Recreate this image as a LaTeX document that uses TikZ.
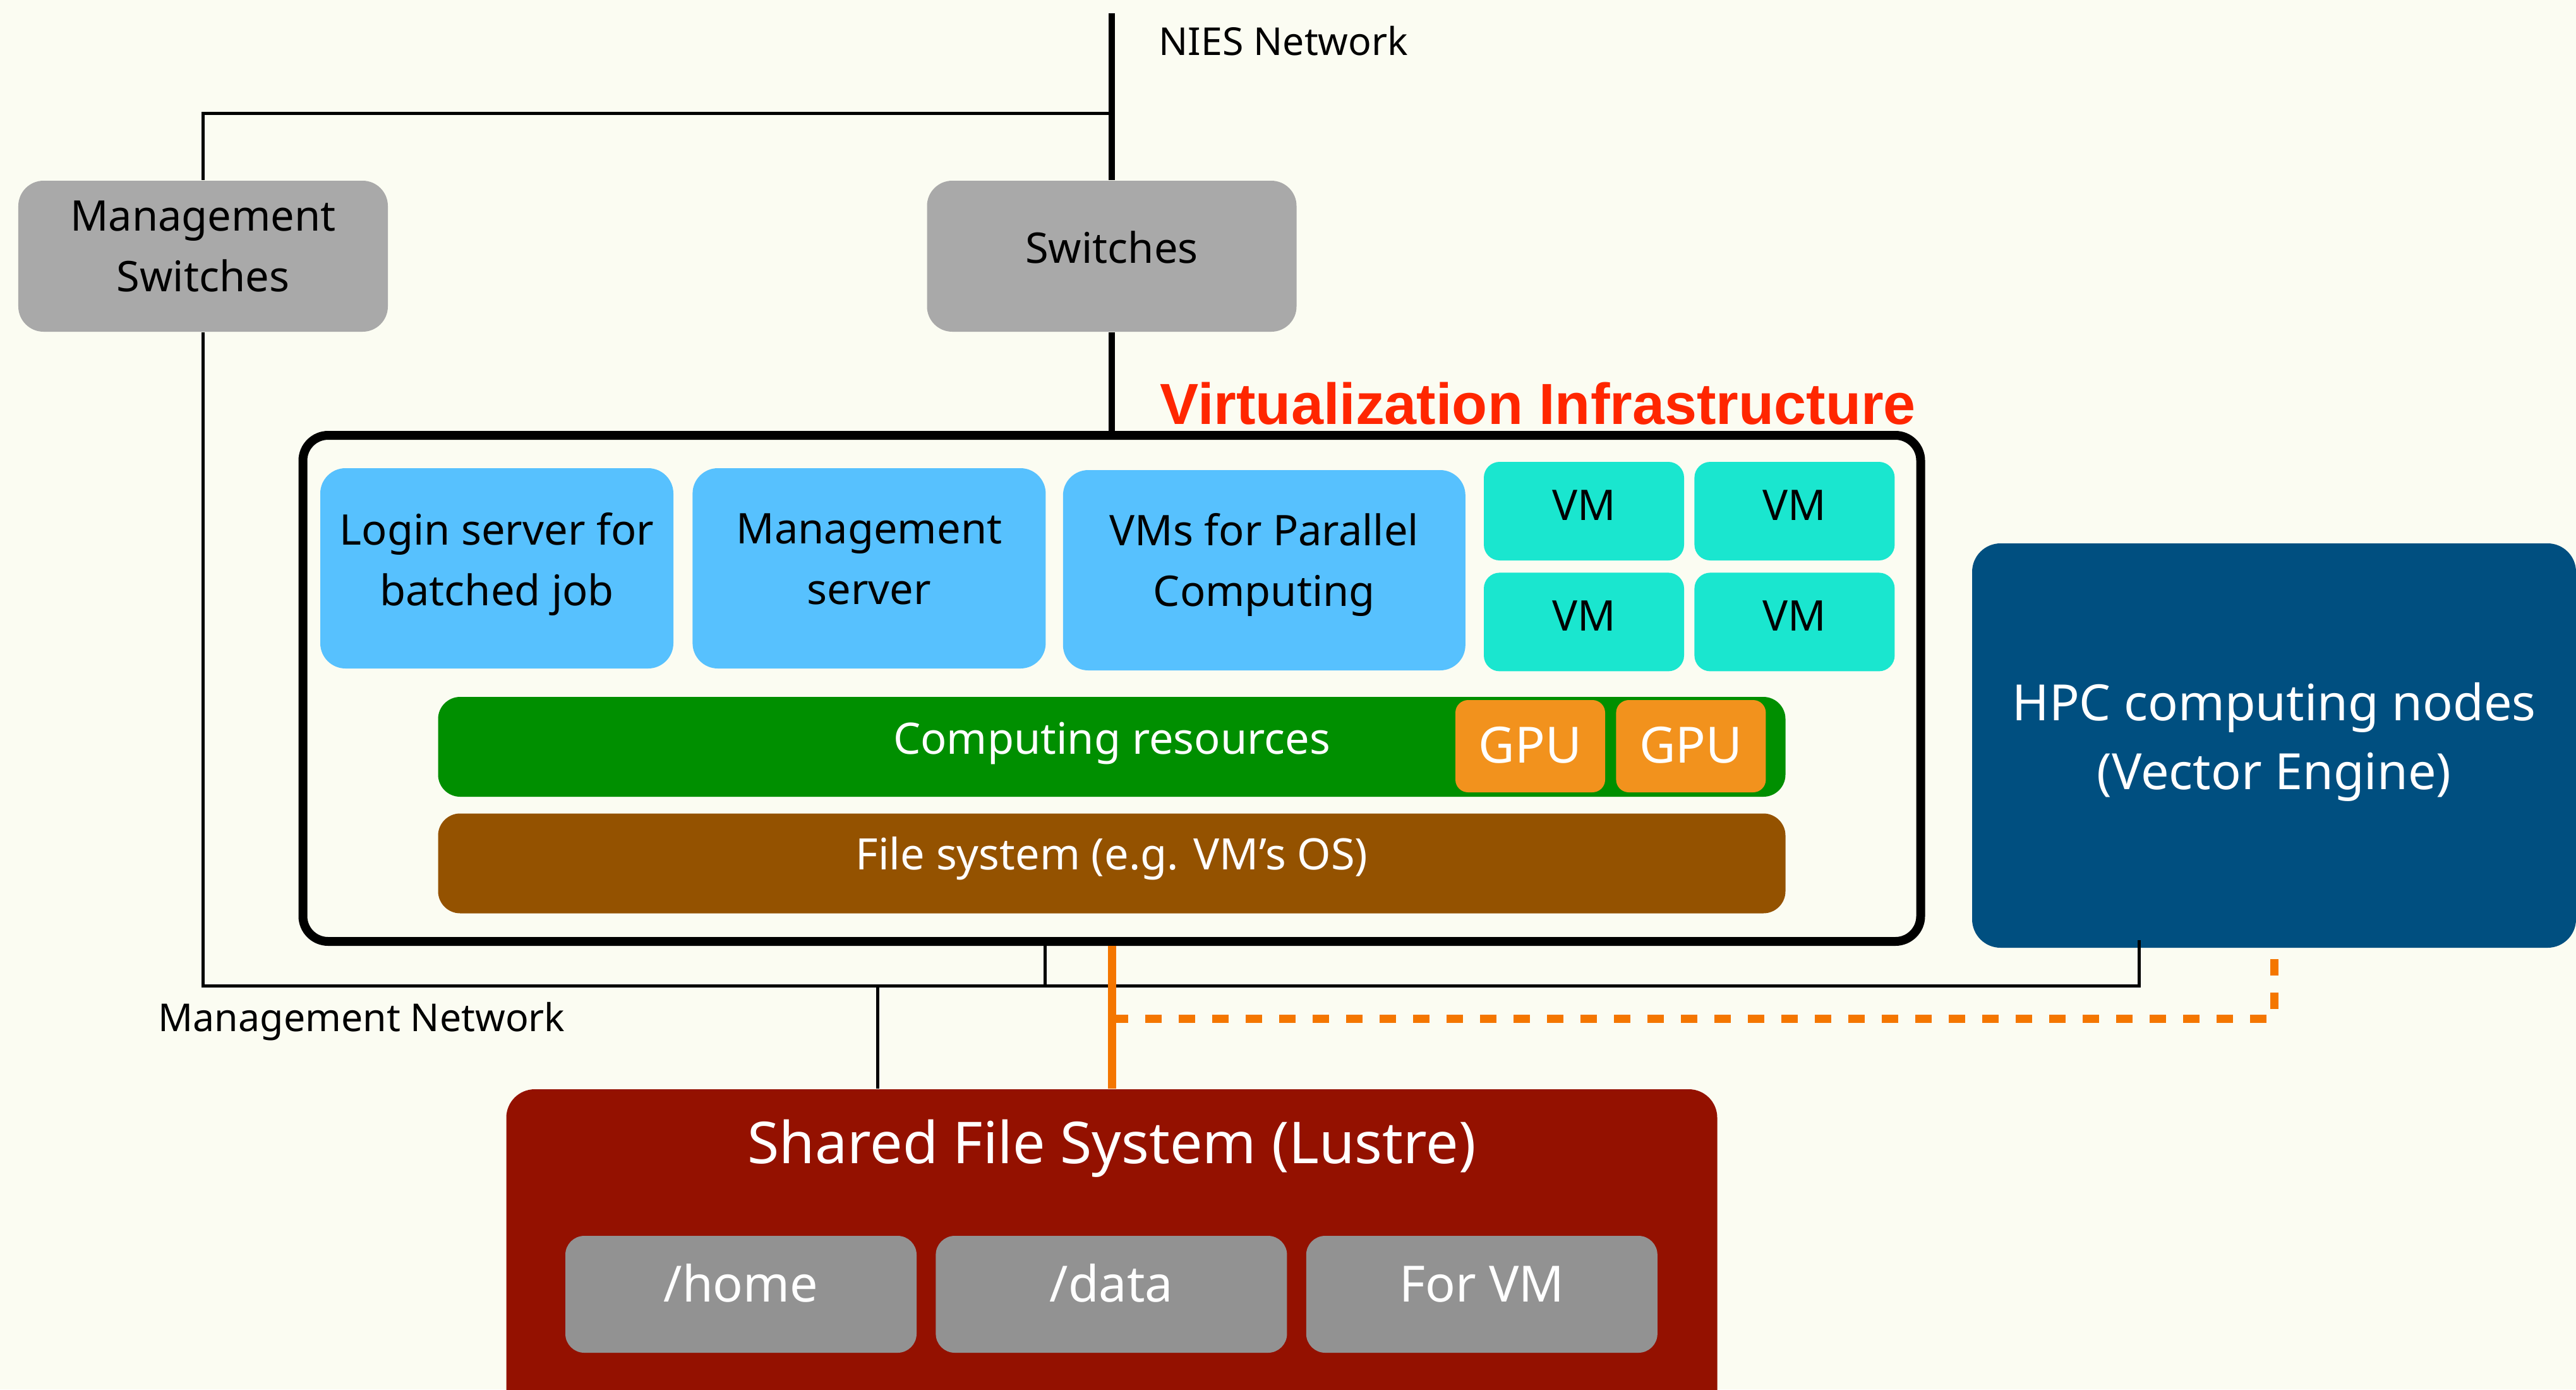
\documentclass[tikz,border=0pt]{standalone}
\usepackage{fontspec}
\setmainfont{Noto Sans}
\newfontfamily\vtitlefont{Liberation Sans}
\usetikzlibrary{positioning}

\definecolor{bgcream}{HTML}{FBFCF2}
\definecolor{swgray}{HTML}{A9A9A9}
\definecolor{srvblue}{HTML}{57C1FE}
\definecolor{vmteal}{HTML}{1AE6CF}
\definecolor{compgreen}{HTML}{008F00}
\definecolor{gpuorange}{HTML}{F2921D}
\definecolor{fsbrown}{HTML}{945200}
\definecolor{hpcnavy}{HTML}{004F80}
\definecolor{sfsred}{HTML}{941100}
\definecolor{dirgray}{HTML}{929292}
\definecolor{titlered}{HTML}{FF2600}
\definecolor{linkorange}{HTML}{F47600}

\newcommand{\boxfont}{\fontsize{19}{27.4}\selectfont}
\newcommand{\netfont}{\fontsize{17.3}{21}\selectfont}
\newcommand{\layerfont}{\fontsize{19.5}{22}\selectfont}
\newcommand{\bigfont}{\fontsize{22.5}{31}\selectfont}
\newcommand{\sfsfont}{\fontsize{26}{31}\selectfont}
% raise the text inside a box without changing the box
\newcommand{\lift}[2][0.1cm]{\raisebox{#1}[\height][\depth]{\begin{tabular}{@{}c@{}}#2\end{tabular}}}

\begin{document}
\begin{tikzpicture}[
    node distance=0.29cm,
    swbox/.style={
        rectangle, fill=swgray, rounded corners=0.4cm,
        minimum width=5.85cm, minimum height=2.39cm,
        align=center, font=\boxfont, inner sep=0pt
    },
    srvbox/.style={
        rectangle, fill=srvblue, rounded corners=0.4cm,
        minimum width=5.59cm, minimum height=3.17cm,
        align=center, font=\boxfont, inner sep=0pt
    },
    vmbox/.style={
        rectangle, fill=vmteal, rounded corners=0.25cm,
        minimum width=3.17cm, minimum height=1.56cm,
        font=\boxfont, inner sep=0pt
    },
    layer/.style={
        rectangle, rounded corners=0.35cm,
        minimum width=21.33cm, minimum height=1.58cm,
        font=\layerfont, text=white, inner sep=0pt
    },
    gpubox/.style={
        rectangle, fill=gpuorange, rounded corners=0.2cm,
        minimum width=2.37cm, minimum height=1.46cm,
        font=\bigfont, text=white, inner sep=0pt
    },
    dirbox/.style={
        rectangle, fill=dirgray, rounded corners=0.3cm,
        minimum width=5.56cm, minimum height=1.85cm,
        font=\bigfont, text=white, inner sep=0pt
    },
    netlabel/.style={font=\netfont, inner sep=0pt},
    uplink/.style={line width=10pt/3.515, black},
    mgline/.style={line width=5pt/3.515, black},
    lustre/.style={line width=13pt/3.515, linkorange},
    lustredash/.style={line width=13pt/3.515, linkorange,
        dash pattern=on 0.26cm off 0.27cm},
]
\useasboundingbox (0,0) rectangle (40.78,-21.99);
\clip (0,0) rectangle (40.78,-21.99);
\fill[bgcream] (0,0) rectangle (40.78,-21.99);

% Switches
\node[swbox] (mgsw) at (3.215,-4.055) {\lift[0.11cm]{Management\\Switches}};
\node[swbox] (sw) at (17.60,-4.055) {\lift[0.08cm]{Switches}};

% Virtualization infrastructure
\node[rectangle, draw=black, line width=14pt/3.515, rounded corners=0.4cm,
      minimum width=25.61cm, minimum height=8.01cm, inner sep=0pt]
    (virt) at (17.60,-10.895) {};
\node[anchor=base west, inner sep=0pt, text=titlered,
      font=\vtitlefont\fontsize{26.1}{30}\selectfont\bfseries]
    (virttitle) at (18.36,-6.71) {Virtualization Infrastructure};

\node[srvbox] (login) at (7.865,-8.995) {\lift[0.08cm]{Login server for\\batched job}};
\node[srvbox, right=of login] (mgsrv) {\lift[0.10cm]{Management\\server}};
\node[srvbox, minimum width=6.37cm, right=0.26cm of mgsrv, yshift=-0.03cm]
    (vmpar) {\lift{VMs for Parallel\\Computing}};

\node[vmbox] (vm1) at (25.075,-8.09) {\lift[0.05cm]{VM}};
\node[vmbox, right=0.15cm of vm1] (vm2) {\lift[0.05cm]{VM}};
\node[vmbox, below=0.18cm of vm1] (vm3) {\lift[0.05cm]{VM}};
\node[vmbox, below=0.18cm of vm2] (vm4) {\lift[0.05cm]{VM}};

\node[layer, fill=compgreen] (comp) at (17.60,-11.82) {\lift[0.04cm]{Computing resources}};
\node[gpubox] (gpu1) at (24.225,-11.81) {\lift[-0.05cm]{GPU}};
\node[gpubox, right=0.16cm of gpu1] (gpu2) {\lift[-0.05cm]{GPU}};
\node[layer, fill=fsbrown] (fsys) at (17.60,-13.665) {\lift[0.05cm]{File system (e.g. VM’s OS)}};

% HPC nodes
\node[rectangle, fill=hpcnavy, rounded corners=0.45cm, minimum width=9.56cm,
      minimum height=6.40cm, align=center, font=\bigfont, text=white, inner sep=0pt]
    (hpc) at (36.00,-11.80) {\lift[0.07cm]{HPC computing nodes\\(Vector Engine)}};

% Shared file system
\node[rectangle, fill=sfsred, rounded corners=0.45cm, minimum width=19.17cm,
      minimum height=5.36cm, inner sep=0pt] (sfs) at (17.60,-19.92) {};
\node[font=\sfsfont, text=white, inner sep=0pt] (sfstitle) at (17.60,-18.18)
    {Shared File System (Lustre)};
\node[dirbox] (home) at (11.73,-20.485) {\lift[0.10cm]{/home}};
\node[dirbox, right=of home] (data) {\lift[0.10cm]{/data}};
\node[dirbox, right=of data] (forvm) {\lift[0.10cm]{For VM}};

% Network labels
\node[netlabel, anchor=west] (nieslabel) at (18.34,-0.65) {NIES Network};
\node[netlabel, anchor=west] (mgnetlabel) at (2.50,-16.17) {Management Network};

% Connectors
\coordinate (nies) at (17.60,-0.21);
\coordinate (mgjoin) at (17.60,-1.79);
\coordinate (mnet) at (3.20,-15.60);
\coordinate (vjoin) at (16.54,-15.60);
\coordinate (sjoin) at (13.89,-15.60);
\coordinate (hpcport) at (33.86,-14.88);
\coordinate (ojoin) at (17.60,-16.12);

\draw[uplink] (nies) -- (sw.north);
\draw[uplink] (sw.south) -- (virt.north);
\draw[mgline] (mgjoin) -| (mgsw.north);
\draw[mgline] (mgsw.south) -- (mgsw.south |- mnet) -| (hpcport);
\draw[mgline] (vjoin |- virt.south) -- (vjoin);
\draw[mgline] (sjoin) -- (sjoin |- sfs.north);
\draw[lustre] (virt.south) -- (sfs.north);
\draw[lustredash] (ojoin) -| (hpc.south);

\end{tikzpicture}
\end{document}
